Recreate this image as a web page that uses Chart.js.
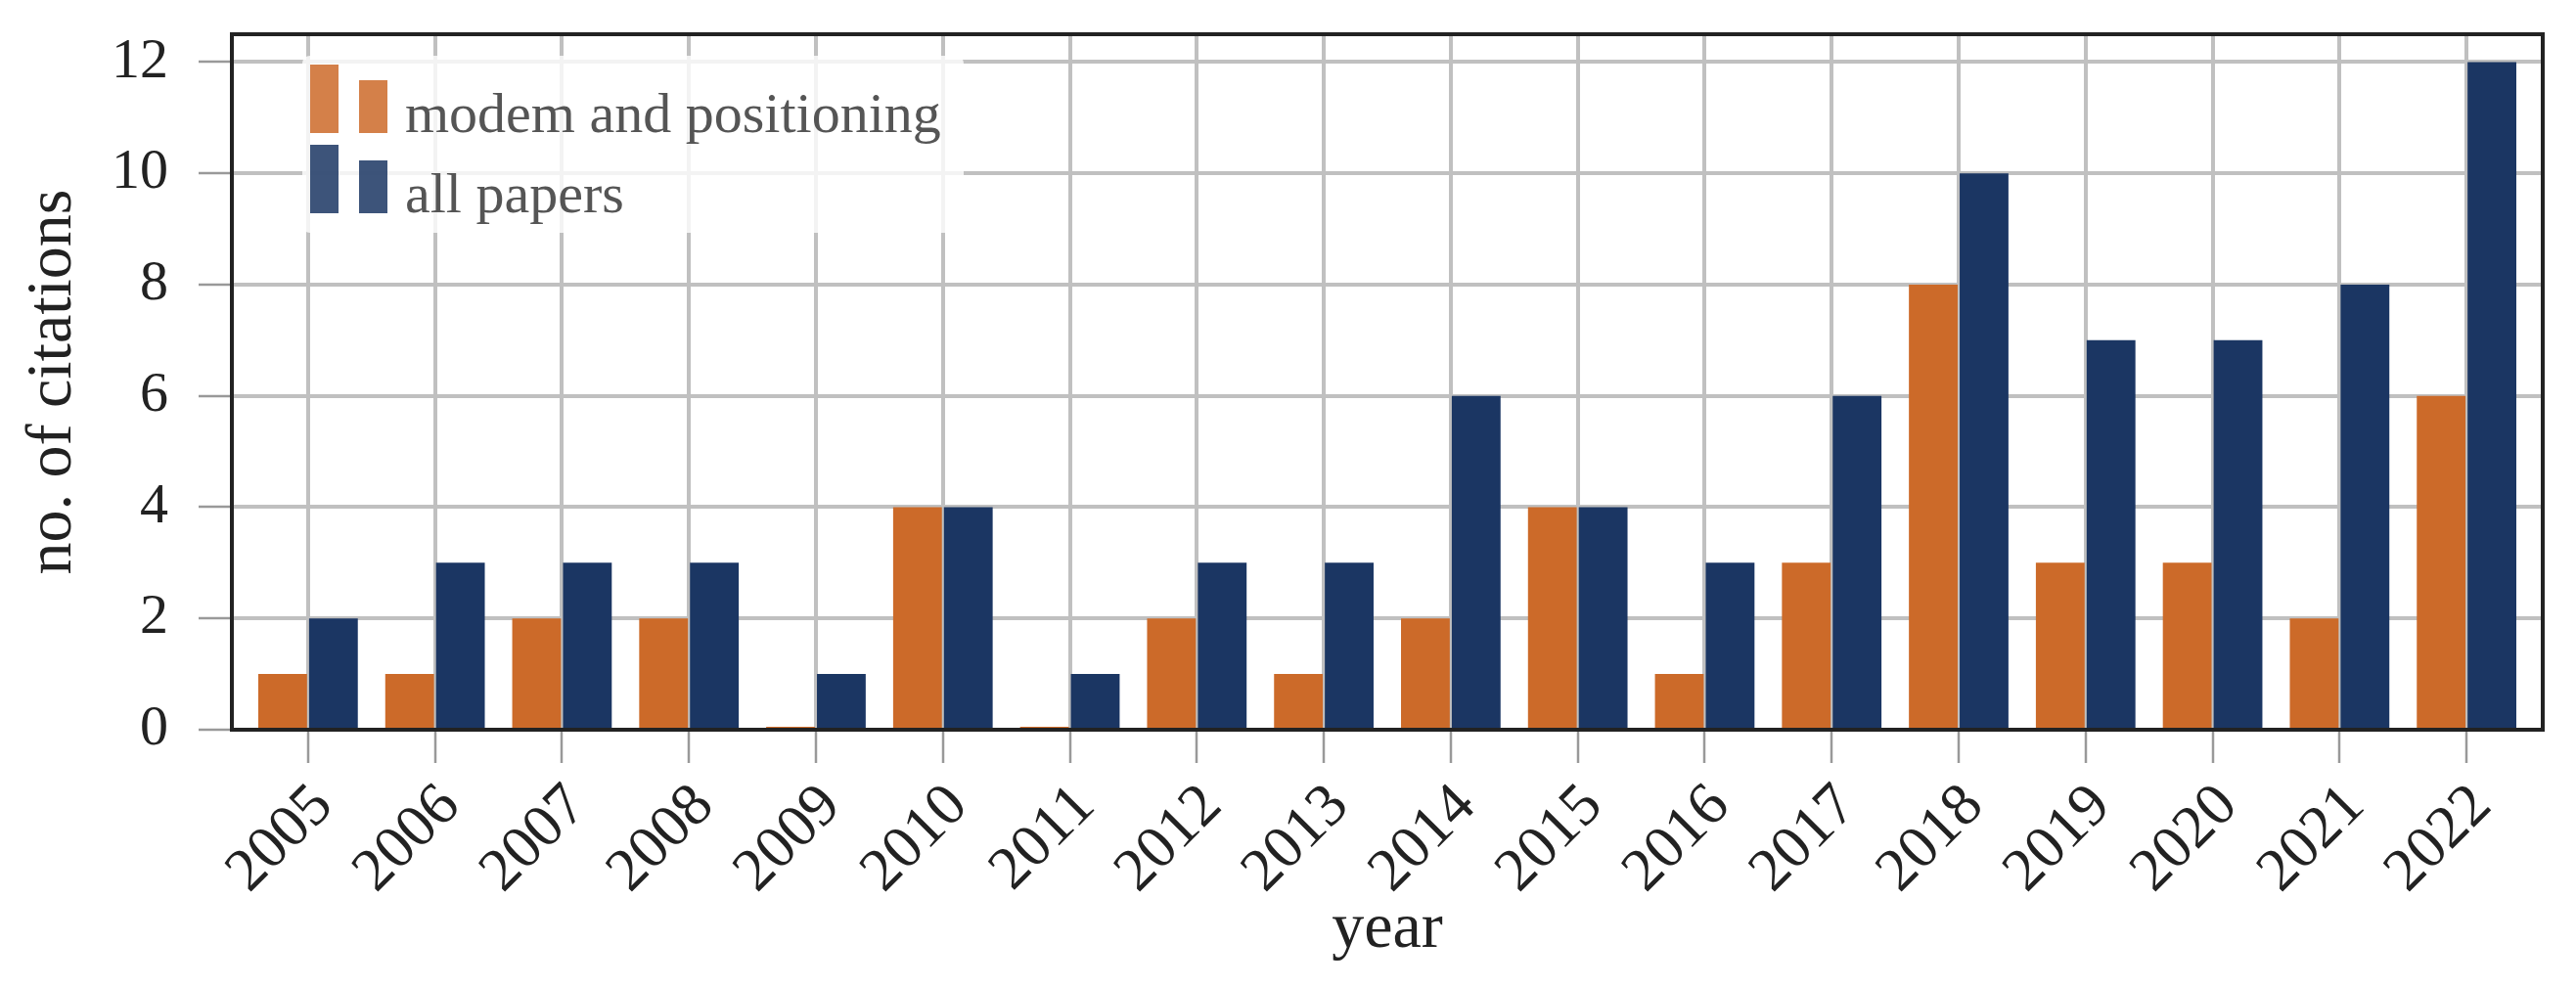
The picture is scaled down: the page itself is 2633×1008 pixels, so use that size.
<!DOCTYPE html>
<html>
<head>
<meta charset="utf-8">
<script src="https://cdn.jsdelivr.net/npm/chart.js@4.4.0/dist/chart.umd.min.js"></script>
<style>
    html, body { margin: 0; padding: 0; background: #fff; }
    #wrap { width: 2633px; height: 1008px; }
</style>
</head>
<body>
<div id="wrap"><canvas id="citationsChart" width="2633" height="1008"></canvas></div>
<script>
const years = [2005, 2006, 2007, 2008, 2009, 2010, 2011, 2012, 2013, 2014, 2015, 2016, 2017, 2018, 2019, 2020, 2021, 2022];
const modemPositioning = [1, 1, 2, 2, 0, 4, 0, 2, 1, 2, 4, 1, 3, 8, 3, 3, 2, 6];
const allPapers = [2, 3, 3, 3, 1, 4, 1, 3, 3, 6, 4, 3, 6, 10, 7, 7, 8, 12];
const yTicks = [0, 2, 4, 6, 8, 10, 12];
const seriesLabels = ['modem and positioning', 'all papers'];

const ORANGE = '#cc6a29';
const BLUE = '#1b3663';
const FONT = '"Liberation Serif", "Times New Roman", serif';

// top and right spines
const framePlugin = {
    id: 'frame',
    afterDatasetsDraw(chart) {
        const { ctx, chartArea: a } = chart;
        ctx.save();
        ctx.strokeStyle = '#222';
        ctx.lineWidth = 4;
        ctx.beginPath();
        ctx.moveTo(a.left - 2, a.top);
        ctx.lineTo(a.right, a.top);
        ctx.lineTo(a.right, a.bottom + 2);
        ctx.stroke();
        ctx.restore();
    }
};

// legend inside the axes, with a two-bar handle like matplotlib's
const innerLegend = {
    id: 'innerLegend',
    afterDatasetsDraw(chart) {
        const { ctx, chartArea: a } = chart;
        ctx.save();
        ctx.fillStyle = 'rgba(255,255,255,0.8)';
        ctx.beginPath();
        ctx.roundRect(a.left + 72, a.top + 22, 676, 181, 8);
        ctx.fill();

        chart.data.datasets.forEach((ds, i) => {
            const base = a.top + 101 + i * 82;
            ctx.globalAlpha = 0.85;
            ctx.fillStyle = ds.backgroundColor;
            ctx.fillRect(a.left + 80, base - 70, 29, 70);
            ctx.fillRect(a.left + 130, base - 54, 29, 54);
            ctx.globalAlpha = 1;
            ctx.fillStyle = '#555';
            ctx.font = '58px ' + FONT;
            ctx.textBaseline = 'alphabetic';
            ctx.fillText(ds.label, a.left + 177, base - 1);
        });
        ctx.restore();
    }
};

function makeDataset(label, values, color) {
    return {
        label: label,
        data: values.map((v, i) => ({ x: years[i], y: v })),
        backgroundColor: color,
        categoryPercentage: 0.8,
        barPercentage: 0.96,
        minBarLength: 3
    };
}

document.addEventListener('DOMContentLoaded', () => {
    const ctx = document.getElementById('citationsChart').getContext('2d');
    new Chart(ctx, {
        type: 'bar',
        data: {
            datasets: [
                makeDataset(seriesLabels[0], modemPositioning, ORANGE),
                makeDataset(seriesLabels[1], allPapers, BLUE)
            ]
        },
        options: {
            responsive: false,
            animation: false,
            devicePixelRatio: 1,
            layout: { padding: { top: 35, right: 34, left: 0, bottom: 0 } },
            plugins: {
                legend: { display: false },
                tooltip: { enabled: false }
            },
            scales: {
                x: {
                    type: 'linear',
                    offset: false,
                    min: years[0] - 0.6,
                    max: years[years.length - 1] + 0.6,
                    afterBuildTicks: scale => { scale.ticks = years.map(v => ({ value: v })); },
                    afterFit: scale => {
                        scale.height = 262;
                        scale.paddingLeft = 0;
                        scale.paddingRight = 0;
                    },
                    grid: {
                        offset: false,
                        color: '#c0c0c0',
                        lineWidth: 4,
                        tickColor: '#999',
                        tickWidth: 2.5,
                        tickLength: 34
                    },
                    border: { color: '#222', width: 4 },
                    ticks: {
                        autoSkip: false,
                        minRotation: 45,
                        maxRotation: 45,
                        padding: 8,
                        labelOffset: 16,
                        color: '#222',
                        font: { family: FONT, size: 62 },
                        callback: v => String(v)
                    },
                    title: {
                        display: true,
                        text: 'year',
                        color: '#222',
                        font: { family: FONT, size: 66, lineHeight: 1.2 },
                        padding: { top: 0, bottom: 18 }
                    }
                },
                y: {
                    min: 0,
                    max: 12.5,
                    afterBuildTicks: scale => { scale.ticks = yTicks.map(v => ({ value: v })); },
                    afterFit: scale => {
                        scale.width = 237;
                        scale.paddingTop = 0;
                        scale.paddingBottom = 0;
                    },
                    grid: {
                        color: '#c0c0c0',
                        lineWidth: 4,
                        tickColor: '#999',
                        tickWidth: 2.5,
                        tickLength: 34
                    },
                    border: { color: '#222', width: 4 },
                    ticks: {
                        padding: 31,
                        color: '#222',
                        font: { family: FONT, size: 58 }
                    },
                    title: {
                        display: true,
                        text: 'no. of citations',
                        color: '#222',
                        font: { family: FONT, size: 66, lineHeight: 1.2 },
                        padding: { top: 15, bottom: 0 }
                    }
                }
            }
        },
        plugins: [framePlugin, innerLegend]
    });
});
</script>
</body>
</html>
